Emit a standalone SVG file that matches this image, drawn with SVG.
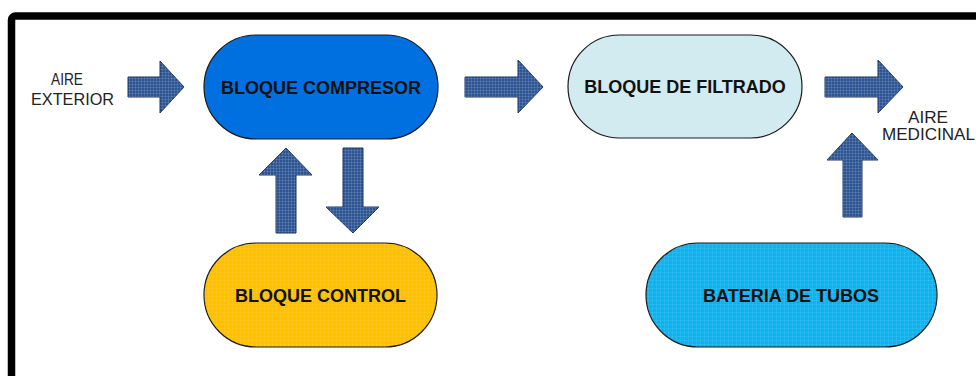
<svg xmlns="http://www.w3.org/2000/svg" width="976" height="376" viewBox="0 0 976 376">
  <defs>
    <!-- fine grid texture used on the block arrows and some blocks -->
    <pattern id="grid" width="3" height="3" patternUnits="userSpaceOnUse">
      <path d="M0,0.5 H3 M0.5,0 V3" stroke="#ffffff" stroke-opacity="0.12" stroke-width="1" fill="none"/>
    </pattern>
    <pattern id="gridSoft" width="4" height="4" patternUnits="userSpaceOnUse">
      <path d="M0,0.5 H4 M0.5,0 V4" stroke="#ffffff" stroke-opacity="0.07" stroke-width="1" fill="none"/>
    </pattern>
  </defs>
  <style>
    .frame { fill: none; stroke: #000; stroke-width: 7.5; }
    .node { stroke: #1a1a1a; stroke-width: 1.2; }
    .label { font-family: "Liberation Sans", Arial, sans-serif; font-weight: bold; font-size: 18px; fill: #111; text-anchor: middle; }
    .ext { font-family: "Liberation Sans", Arial, sans-serif; font-size: 16px; fill: #222; text-anchor: middle; }
    .arrow { fill: #2d5593; stroke: #1b3564; stroke-width: 1; }
    .tex { fill: url(#grid); stroke: none; }
  </style>

  <rect width="976" height="376" fill="#ffffff"/>
  <rect class="frame" x="11.5" y="16" width="1000" height="400" rx="4"/>

  <g id="aire-exterior">
    <text class="ext" x="67" y="85" textLength="32" lengthAdjust="spacingAndGlyphs">AIRE</text>
    <text class="ext" x="72.5" y="105" textLength="83" lengthAdjust="spacingAndGlyphs">EXTERIOR</text>
  </g>

  <g id="bloque-compresor">
    <rect class="node" x="204" y="35" width="234" height="104" rx="52" fill="#0070e0"/>
    <text class="label" x="321" y="93.5">BLOQUE COMPRESOR</text>
  </g>

  <g id="bloque-filtrado">
    <rect class="node" x="568" y="35" width="234" height="103" rx="51.5" fill="#d2ebf0"/>
    <text class="label" x="685" y="93">BLOQUE DE FILTRADO</text>
  </g>

  <g id="bloque-control">
    <rect class="node" x="204" y="243" width="233" height="104" rx="52" fill="#ffc000"/>
    <rect x="204" y="243" width="233" height="104" rx="52" fill="url(#gridSoft)"/>
    <text class="label" x="320.5" y="301.5">BLOQUE CONTROL</text>
  </g>

  <g id="bateria-tubos">
    <rect class="node" x="646" y="243" width="291" height="104" rx="52" fill="#10b2ee"/>
    <rect x="646" y="243" width="291" height="104" rx="52" fill="url(#gridSoft)"/>
    <text class="label" x="791" y="301.5">BATERIA DE TUBOS</text>
  </g>

  <g id="aire-medicinal">
    <text class="ext" x="928" y="123" textLength="40" lengthAdjust="spacingAndGlyphs">AIRE</text>
    <text class="ext" x="928.5" y="140" textLength="93" lengthAdjust="spacingAndGlyphs">MEDICINAL</text>
  </g>

  <g id="connectors">
    <!-- aire exterior -> compresor -->
    <path class="arrow" d="M128,77 H160 V61 L184,87 L160,113 V97 H128 Z"/>
    <path class="tex" d="M128,77 H160 V61 L184,87 L160,113 V97 H128 Z"/>
    <!-- compresor -> filtrado -->
    <path class="arrow" d="M465,77 H518 V60 L543,87 L518,113 V97 H465 Z"/>
    <path class="tex" d="M465,77 H518 V60 L543,87 L518,113 V97 H465 Z"/>
    <!-- filtrado -> aire medicinal -->
    <path class="arrow" d="M825,77 H878 V60 L903,87 L878,113 V97 H825 Z"/>
    <path class="tex" d="M825,77 H878 V60 L903,87 L878,113 V97 H825 Z"/>
    <!-- bateria -> aire medicinal -->
    <path class="arrow" d="M843,217 V160 H827 L852,133 L878,160 H862 V217 Z"/>
    <path class="tex" d="M843,217 V160 H827 L852,133 L878,160 H862 V217 Z"/>
    <!-- control -> compresor -->
    <path class="arrow" d="M276,233 V175 H259 L286,148 L312,175 H296 V233 Z"/>
    <path class="tex" d="M276,233 V175 H259 L286,148 L312,175 H296 V233 Z"/>
    <!-- compresor -> control -->
    <path class="arrow" d="M343,148 H363 V207 H379 L353,233 L326,207 H343 Z"/>
    <path class="tex" d="M343,148 H363 V207 H379 L353,233 L326,207 H343 Z"/>
  </g>
</svg>
